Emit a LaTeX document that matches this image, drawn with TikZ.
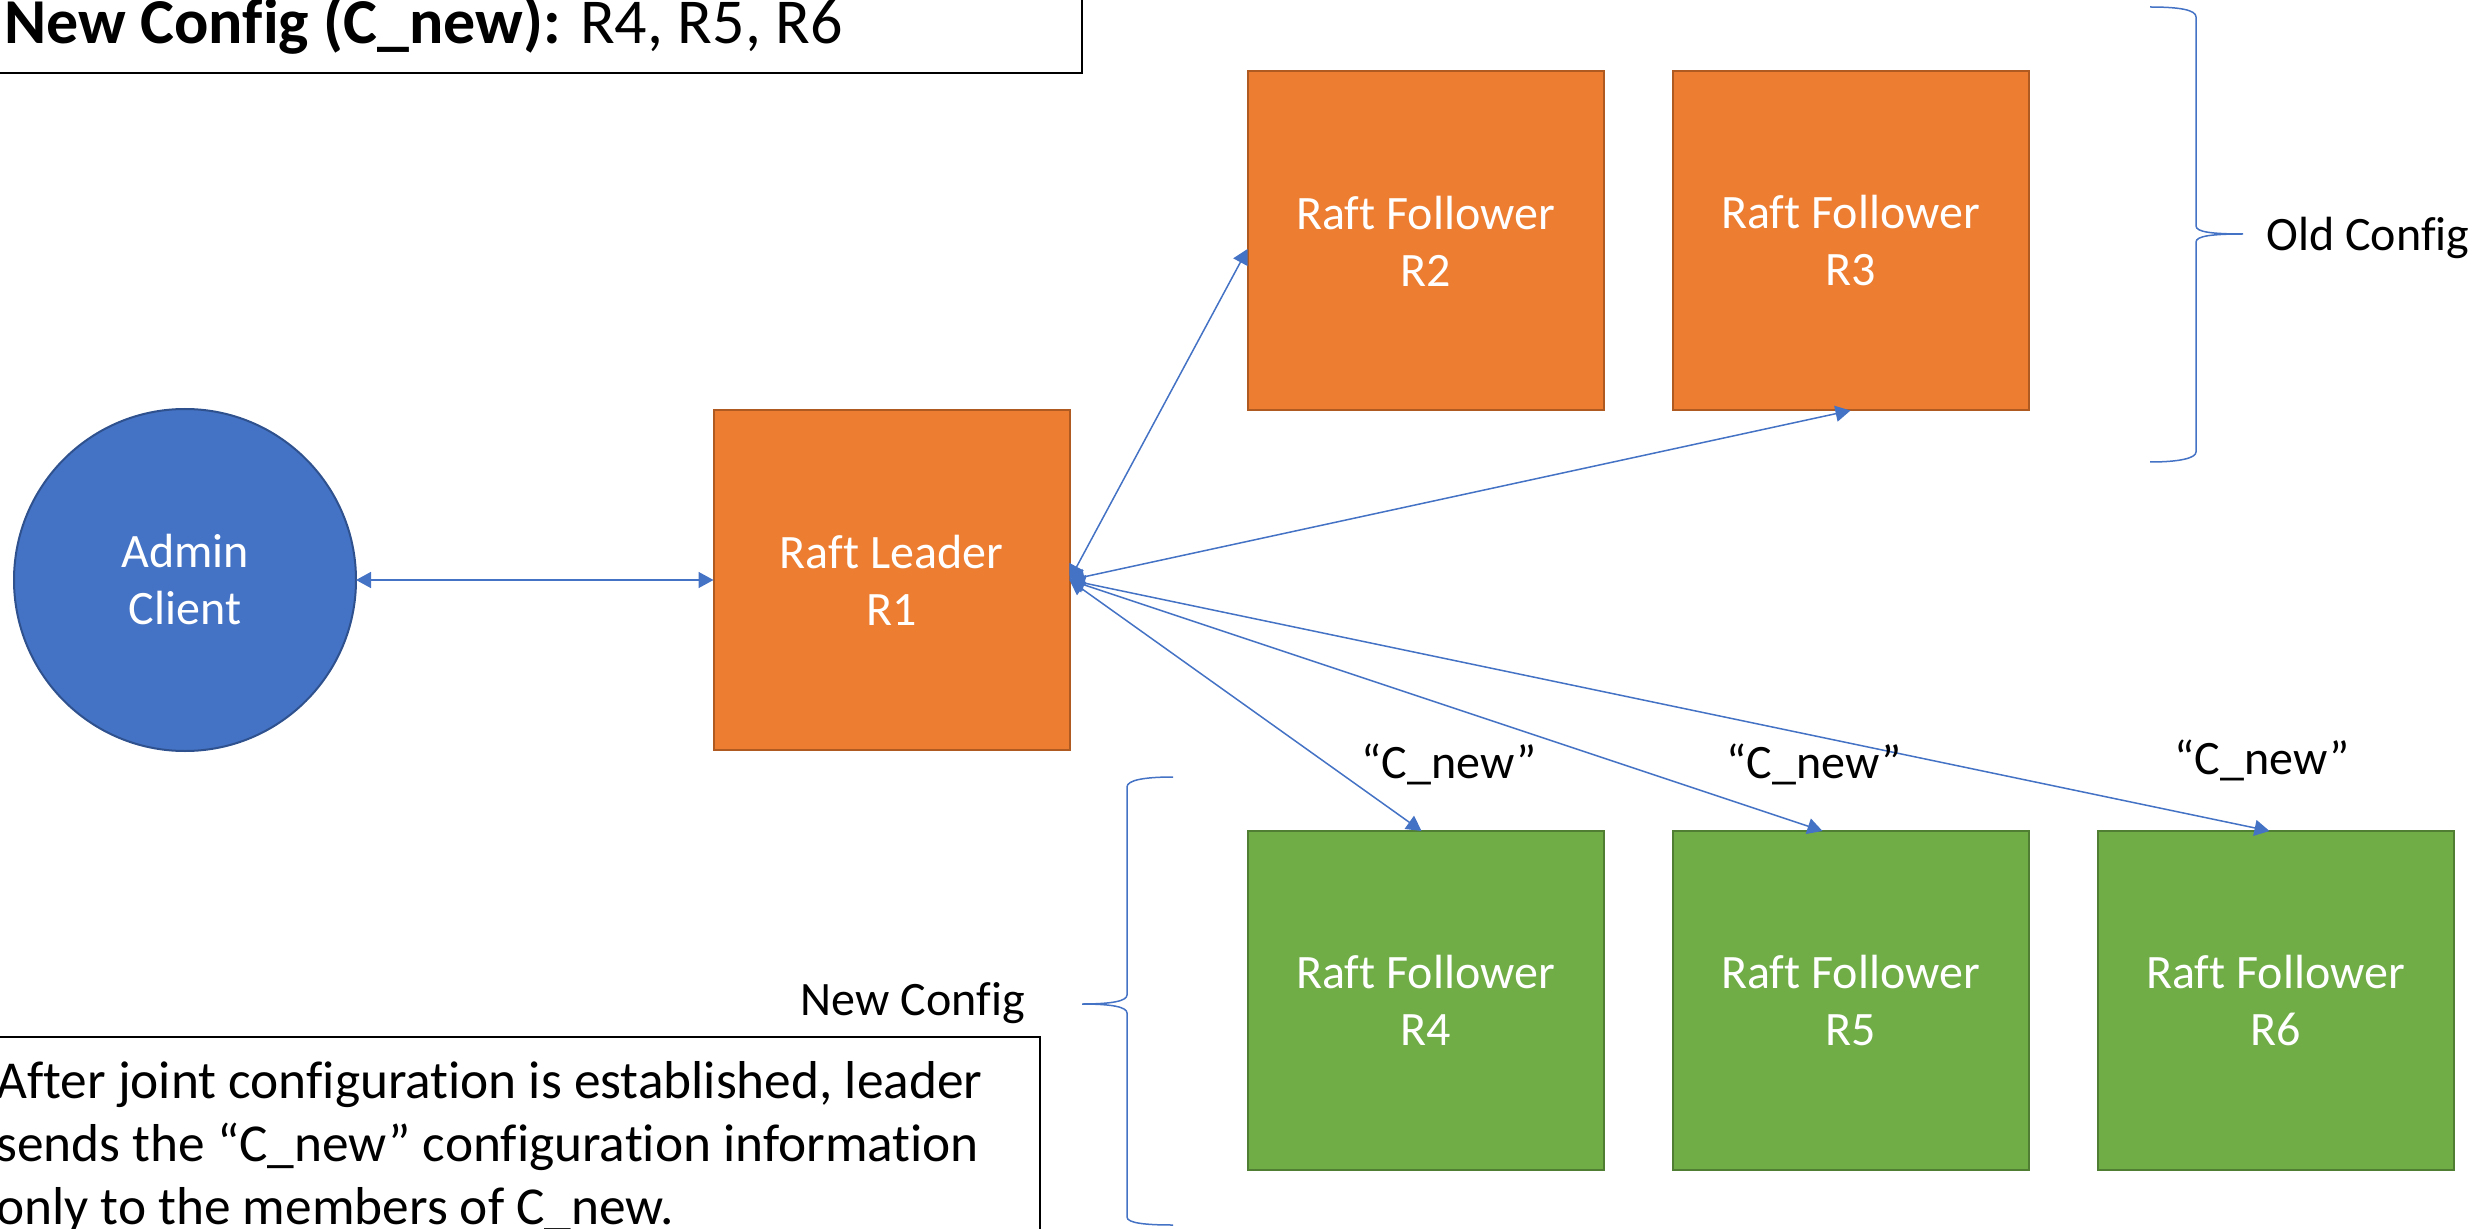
\documentclass[tikz,border=0pt]{standalone}
\usepackage{fontspec}
\setmainfont{Carlito}[Ligatures=NoCommon]
\usetikzlibrary{arrows.meta,calc}
\definecolor{accblue}{HTML}{4472C4}
\definecolor{blueedge}{HTML}{2F528F}
\definecolor{orangefill}{HTML}{ED7D31}
\definecolor{orangeedge}{HTML}{AE5A21}
\definecolor{greenfill}{HTML}{70AD47}
\definecolor{greenedge}{HTML}{507E32}

\begin{document}
\begin{tikzpicture}[x=0.5pt,y=-0.5pt,
  server/.style={rectangle, minimum width=178pt, minimum height=169.5pt,
    line width=1pt, text=white, align=center,
    font=\fontsize{24}{28.5}\selectfont, outer sep=0pt},
  oldmember/.style={server, fill=orangefill, draw=orangeedge},
  newmember/.style={server, fill=greenfill, draw=greenedge},
  link/.style={accblue, line width=0.75pt,
    {Triangle[length=7.5pt,width=8pt]}-{Triangle[length=7.5pt,width=8pt]}},
  bracepath/.style={accblue, line width=0.75pt},
  lbl/.style={font=\fontsize{24}{28.5}\selectfont, inner sep=0pt},
  notebox/.style={draw=black, line width=1pt}
]
\useasboundingbox (0,0) rectangle (2476,1229);

% title box
\draw[notebox] (-10,-10) rectangle (1082,73);
\node[anchor=base west, inner sep=0pt, font=\fontsize{32}{38}\selectfont]
  (title) at (4,44) {\textbf{New Config (C\_new):} R4, R5, R6};

% client and servers
\node[circle, minimum size=171pt, fill=accblue, draw=blueedge, line width=1pt,
  text=white, align=center, font=\fontsize{24}{28.5}\selectfont, outer sep=0pt]
  (admin) at (185,580) {Admin\\Client};
\node[oldmember] (r1) at (891.5,580) {Raft Leader\\R1};
\node[oldmember] (r2) at (1425.5,241) {Raft Follower\\R2};
\node[oldmember] (r3) at (1850.5,241) {Raft Follower\\R3};
\node[newmember] (r4) at (1425.5,1000.5) {Raft Follower\\R4};
\node[newmember] (r5) at (1850.5,1000.5) {Raft Follower\\R5};
\node[newmember] (r6) at (2275.5,1000.5) {Raft Follower\\R6};

% connectors
\draw[link] (admin.east) -- (r1.west);
\draw[link] (r1.east) -- ([yshift=-4pt]r2.west);
\draw[link] (r1.east) -- (r3.south);
\draw[link] (r1.east) -- ([xshift=-2pt]r4.north);
\draw[link] (r1.east) -- ([xshift=-14pt]r5.north);
\draw[link] (r1.east) -- ([xshift=-3pt]r6.north);

% message labels
\node[lbl, anchor=base] (m4) at (1449,778) {“C\_new”};
\node[lbl, anchor=base] (m5) at (1814,778) {“C\_new”};
\node[lbl, anchor=base] (m6) at (2262,774) {“C\_new”};

% old configuration brace
\draw[bracepath] (2150,7) .. controls (2180,7) and (2196,10) .. (2196,17)
  -- (2196,226) .. controls (2196,232) and (2212,234) .. (2243,234)
  .. controls (2212,234) and (2196,236) .. (2196,242)
  -- (2196,452) .. controls (2196,458) and (2180,462) .. (2150,462);
\node[lbl, anchor=base west] (oldcfg) at (2266,251) {Old Config};

% new configuration brace
\draw[bracepath] (1173,777) .. controls (1145,777) and (1127,780) .. (1127,787)
  -- (1127,995) .. controls (1127,1001) and (1112,1004) .. (1082,1004)
  .. controls (1112,1004) and (1127,1007) .. (1127,1013)
  -- (1127,1217) .. controls (1127,1223) and (1145,1225) .. (1173,1225);
\node[lbl, anchor=base east] (newcfg) at (1025,1015) {New Config};

% explanation box (base anchor = baseline of the last line)
\draw[notebox] (-10,1037) rectangle (1040,1245);
\node[anchor=base west, inner sep=0pt, align=left,
  font=\fontsize{26.67}{31.5}\selectfont] (note) at (-4,1224)
  {After joint configuration is established, leader\\
   sends the “C\_new” configuration information\\
   only to the members of C\_new.};
\end{tikzpicture}
\end{document}
